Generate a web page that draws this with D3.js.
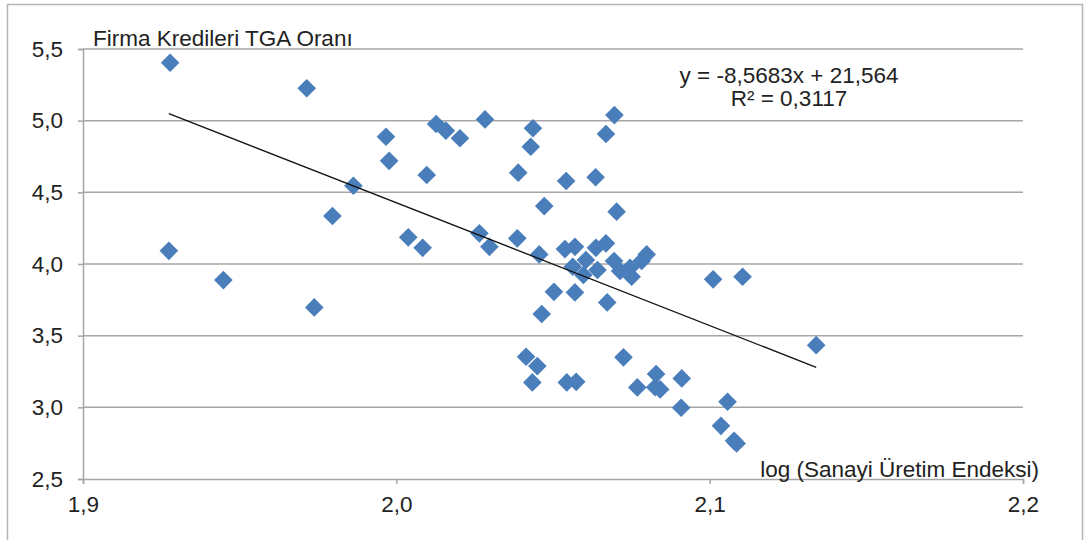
<!DOCTYPE html>
<html>
<head>
<meta charset="UTF-8">
<script src="https://cdn.jsdelivr.net/npm/d3@7"></script>
<style>
  body { margin: 0; background: #fff; font-family: "Liberation Sans", Arial, sans-serif; }
  svg text { fill: #222; }
</style>
</head>
<body>
<div id="chart"></div>
<script>
// log (Sanayi Üretim Endeksi) değerleri
const xVals = [1.9278, 1.9714, 1.9863, 1.9796, 1.9274, 1.9448, 1.9738, 1.9967, 1.9977, 2.0097,
  2.0127, 2.0158, 2.0203, 2.0283, 2.0038, 2.0084, 2.0265, 2.0297, 2.0386, 2.0389,
  2.0436, 2.0429, 2.0542, 2.0636, 2.0696, 2.0669, 2.0472, 2.0703, 2.0456, 2.0538,
  2.0570, 2.0637, 2.0669, 2.0605, 2.0563, 2.0597, 2.0642, 2.0695, 2.0714, 2.0746,
  2.0751, 2.0783, 2.0799, 2.0503, 2.0570, 2.0673, 2.0464, 2.1011, 2.1105, 2.1340,
  2.0414, 2.0450, 2.0434, 2.0544, 2.0574, 2.0725, 2.0769, 2.0829, 2.0842, 2.0911,
  2.0909, 2.1057, 2.1036, 2.1086, 2.1078, 2.0826];
// Firma Kredileri TGA Oranı değerleri
const yVals = [5.404, 5.226, 4.546, 4.335, 4.092, 3.888, 3.697, 4.888, 4.720, 4.621,
  4.977, 4.930, 4.877, 5.009, 4.186, 4.113, 4.214, 4.120, 4.179, 4.637,
  4.947, 4.818, 4.579, 4.605, 5.039, 4.907, 4.404, 4.365, 4.067, 4.104,
  4.120, 4.113, 4.144, 4.028, 3.981, 3.923, 3.958, 4.021, 3.951, 3.974,
  3.911, 4.021, 4.067, 3.806, 3.802, 3.732, 3.651, 3.893, 3.911, 3.434,
  3.353, 3.288, 3.174, 3.174, 3.178, 3.349, 3.139, 3.232, 3.125, 3.202,
  2.997, 3.039, 2.871, 2.748, 2.766, 3.140];

const xTicks = [1.9, 2.0, 2.1, 2.2];
const yTicks = [2.5, 3.0, 3.5, 4.0, 4.5, 5.0, 5.5];

// trend çizgisi katsayıları
const slope = -8.5683;
const intercept = 21.564;
const r2 = 0.3117;

const width = 1084, height = 540;
const fontSize = 22.5;
const fmt = v => d3.format(".1f")(v).replace(".", ",");

const svg = d3.select("#chart").append("svg")
  .attr("width", width)
  .attr("height", height);

// dış çerçeve
svg.append("rect")
  .attr("x", 7.5).attr("y", 4.5)
  .attr("width", 1075).attr("height", 545)
  .attr("fill", "none")
  .attr("stroke", "#b4b4b4")
  .attr("stroke-width", 1.5);

const x = d3.scaleLinear().domain([1.9, 2.2]).range([83, 1023]);
const y = d3.scaleLinear().domain([2.5, 5.5]).range([479, 49]);

// yatay ızgara
svg.append("g")
  .selectAll("line")
  .data(yTicks.slice(1))
  .join("line")
  .attr("x1", x(1.9)).attr("x2", x(2.2))
  .attr("y1", d => y(d)).attr("y2", d => y(d))
  .attr("stroke", "#a6a6a6")
  .attr("stroke-width", 1.5);

// eksenler
const yAxis = svg.append("g")
  .attr("transform", `translate(${x(1.9)},0)`)
  .call(d3.axisLeft(y).tickValues(yTicks).tickFormat(fmt).tickSize(5).tickPadding(15));

const xAxis = svg.append("g")
  .attr("transform", `translate(0,${y(2.5)})`)
  .call(d3.axisBottom(x).tickValues(xTicks).tickFormat(fmt).tickSize(5).tickPadding(12));

[yAxis, xAxis].forEach(a => {
  a.select(".domain").attr("stroke", "#a6a6a6").attr("stroke-width", 1.5);
  a.selectAll(".tick line").attr("stroke", "#a6a6a6").attr("stroke-width", 1.5);
  a.selectAll(".tick text")
    .attr("font-family", "Liberation Sans, Arial, sans-serif")
    .attr("font-size", fontSize)
    .attr("fill", "#222");
});

// noktalar
const points = xVals.map((v, i) => ({ x: v, y: yVals[i] }));

svg.append("g")
  .selectAll("path")
  .data(points)
  .join("path")
  .attr("d", d3.symbol(d3.symbolSquare, 174))
  .attr("transform", d => `translate(${x(d.x)},${y(d.y)}) rotate(45)`)
  .attr("fill", "#4a7ebb");

// doğrusal trend
const xMin = d3.min(xVals), xMax = d3.max(xVals);
svg.append("line")
  .attr("x1", x(xMin)).attr("y1", y(slope * xMin + intercept))
  .attr("x2", x(xMax)).attr("y2", y(slope * xMax + intercept))
  .attr("stroke", "#111")
  .attr("stroke-width", 1.3);

// başlıklar
svg.append("text")
  .attr("x", 93).attr("y", 46)
  .attr("font-size", fontSize)
  .text("Firma Kredileri TGA Oranı");

svg.append("text")
  .attr("x", 1039).attr("y", 477)
  .attr("text-anchor", "end")
  .attr("font-size", fontSize)
  .text("log (Sanayi Üretim Endeksi)");

const eqText = "y = " + String(slope).replace(".", ",") + "x + " + String(intercept).replace(".", ",");
svg.append("text")
  .attr("x", 789).attr("y", 83)
  .attr("text-anchor", "middle")
  .attr("font-size", fontSize)
  .text(eqText);

svg.append("text")
  .attr("x", 789).attr("y", 106)
  .attr("text-anchor", "middle")
  .attr("font-size", fontSize)
  .text("R² = " + String(r2).replace(".", ","));
</script>
</body>
</html>
